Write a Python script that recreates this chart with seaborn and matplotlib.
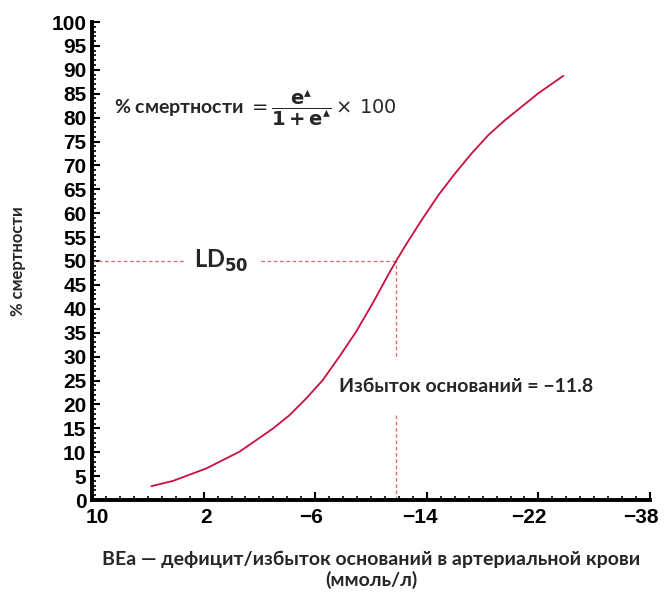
import matplotlib
matplotlib.use("Agg")
import matplotlib.pyplot as plt
import matplotlib.transforms as mtransforms
import seaborn as sns
import pandas as pd
from matplotlib.ticker import MultipleLocator, FixedLocator

# Data
base_excess = [5.74, 4.19, 1.81, -0.57, -2.95, -4.14, -5.34, -6.52, -7.71, -8.91, -10.09, -11.29,
               -11.8, -12.48, -13.66, -14.86, -16.05, -17.24, -18.43, -19.62, -20.81, -22.0, -23.79]
mortality = [2.9, 4.0, 6.6, 10.1, 14.9, 17.7, 21.2, 25.0, 29.9, 35.1, 41.0, 47.4,
             50.0, 53.3, 58.7, 63.9, 68.4, 72.6, 76.4, 79.5, 82.3, 85.1, 88.75]
x_tick_pos = [10, 2, -6, -14, -22, -30]
x_tick_labels = ["10", "2", "−6", "−14", "−22", "−38"]
y_ticks = list(range(0, 101, 5))
ld50_x = -11.8
ld50_y = 50

sns.set_style("ticks")
plt.rcParams['font.family'] = ['Liberation Sans', 'DejaVu Sans']
TXT = ["Lato", "DejaVu Sans"]

df = pd.DataFrame({"be": base_excess, "m": mortality})

fig = plt.figure(figsize=(6.65, 5.97), dpi=100)
ax = fig.add_axes([92/665, 1-500/597, (650-92)/665, (500-22)/597])

sns.lineplot(data=df, x="be", y="m", ax=ax, color="#c8103e", linewidth=1.3, sort=False, zorder=5)

red_dash = "#e06a6a"
ax.plot([10, ld50_x], [ld50_y, ld50_y], ls=(0, (3, 2)), color=red_dash, lw=0.9, zorder=1)
ax.plot([ld50_x, ld50_x], [0, ld50_y], ls=(0, (3, 2)), color=red_dash, lw=0.9, zorder=1)

ax.set_xlim(10, -30)
ax.set_ylim(0, 100)
ax.xaxis.set_major_locator(FixedLocator(x_tick_pos))
ax.set_xticklabels(x_tick_labels)
ax.xaxis.set_minor_locator(MultipleLocator(1))
ax.set_yticks(y_ticks)
ax.yaxis.set_minor_locator(MultipleLocator(1))

for s in ["top", "right"]:
    ax.spines[s].set_visible(False)
for s in ["left", "bottom"]:
    ax.spines[s].set_linewidth(2.8)
    ax.spines[s].set_color("black")

ax.tick_params(axis="both", which="major", direction="in", length=6, width=1.5,
               labelsize=15, pad=6, colors="black")
ax.tick_params(axis="both", which="minor", direction="in", length=3, width=1.2, colors="black")
ax.tick_params(axis="y", pad=4)
xlabs = ax.get_xticklabels()
for lab in xlabs + ax.get_yticklabels():
    lab.set_fontweight("bold")
    lab.set_family(["Liberation Sans", "DejaVu Sans"])
shifts = [5, 2, -4, -7, -10, -9]
for lab, dx in zip(xlabs, shifts):
    lab.set_transform(lab.get_transform() + mtransforms.ScaledTranslation(dx/100, 0, fig.dpi_scale_trans))

ax.set_xlabel("BEa — дефицит/избыток оснований в артериальной крови\n(ммоль/л)",
              fontsize=14, fontweight="bold", family=TXT,
              labelpad=17, linespacing=1.2)
ax.set_ylabel("% смертности", fontsize=12, fontweight="bold", family=TXT, labelpad=18)

ax.text(8.4, 82.0, r"% смертности $=\dfrac{\mathbf{e}^{\blacktriangle}}{\mathbf{1+e}^{\blacktriangle}}\times\,100$",
        fontsize=14, fontweight="bold", family=TXT, ha="left", va="center")

ax.text(0.7, ld50_y, r"LD$_{\mathbf{50}}$", fontsize=17, fontweight="bold",
        family=TXT, ha="center", va="center",
        bbox=dict(facecolor="white", edgecolor="none", pad=7), zorder=3)

ax.text(-7.7, 23.7, "Избыток оснований = −11.8", fontsize=14, fontweight="bold",
        family=TXT, ha="left", va="center",
        bbox=dict(facecolor="white", edgecolor="none", pad=14), zorder=3)

fig.savefig("out.png", dpi=100)
